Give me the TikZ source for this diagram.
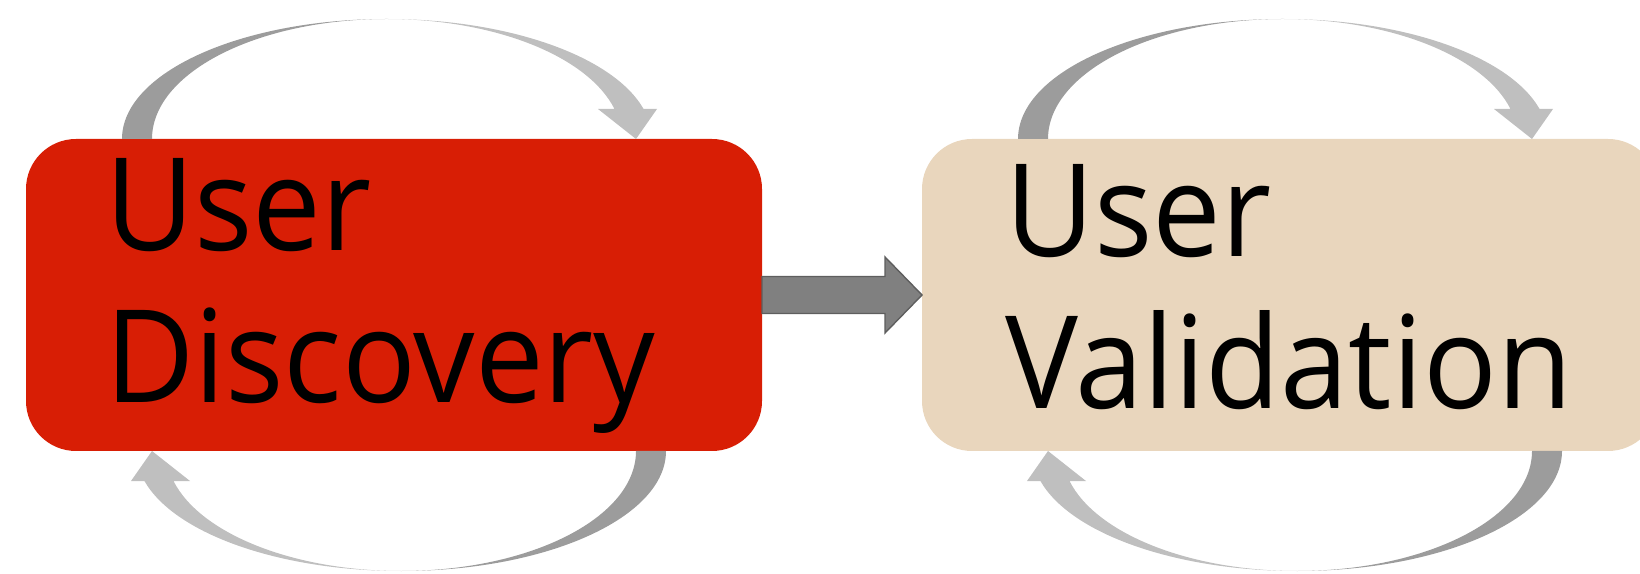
\documentclass[tikz,border=0pt]{standalone}
\usepackage{fontspec}
\usetikzlibrary{calc}
\newfontfamily\boxfont[FakeStretch=0.95]{Open Sans}

\definecolor{discred}{HTML}{D81E05}
\definecolor{valtan}{HTML}{E9D6BD}
\definecolor{loopdark}{HTML}{9C9C9C}
\definecolor{looplight}{HTML}{BFBFBF}
\definecolor{flowfill}{HTML}{808080}
\definecolor{flowedge}{HTML}{5E5E5E}

\tikzset{
  stagebox/.style={rectangle, rounded corners=50pt, inner sep=0pt, outer sep=0pt,
    minimum width=736pt, minimum height=312pt},
  stagetext/.style={anchor=base west, inner sep=0pt, outer sep=0pt,
    font=\boxfont\fontsize{129}{152}\selectfont, text=black},
  flowarrow/.style={fill=flowfill, draw=flowedge, line width=1.4pt, line join=miter},
  % curved feedback arrow above a box, placed at the box centre
  loop arrow/.pic={
    % rear half: from the tail up to the crest
    \fill[loopdark] (-272,156)
      arc[start angle=180, end angle=90, x radius=265pt, y radius=120pt]
      arc[start angle=90, end angle=180, x radius=235pt, y radius=120pt] -- cycle;
    % front half with the arrow head
    \fill[looplight] (-7,276)
      arc[start angle=90, end angle=14.48, x radius=265pt, y radius=120pt]
      -- (263,186) -- (242,156) -- (204,186) -- (220.5,186)
      arc[start angle=14.48, end angle=90, x radius=235pt, y radius=120pt] -- cycle;
  }
}

\begin{document}
\begin{tikzpicture}[x=1pt, y=1pt]
  \useasboundingbox (0,0) rectangle (1640,573);
  \clip (0,0) rectangle (1640,573);

  % the two stages
  \node[stagebox, fill=discred] (disc) at (394,278) {};
  \node[stagebox, fill=valtan] (valid) at (1290,278) {};

  % feedback loops round each stage
  \pic at (disc.center) {loop arrow};
  \pic[rotate=180] at (disc.center) {loop arrow};
  \pic at (valid.center) {loop arrow};
  \pic[rotate=180] at (valid.center) {loop arrow};

  % stage labels
  \node[stagetext] (discA) at ($(disc.north west)+(79,-112)$) {User};
  \node[stagetext] (discB) at ($(disc.north west)+(79,-264)$) {Discovery};
  \node[stagetext] (validA) at ($(valid.north west)+(83,-118)$) {User};
  \node[stagetext] (validB) at ($(valid.north west)+(83,-270)$) {Validation};

  % block arrow from discovery to validation
  \path[flowarrow]
    ($(disc.east)+(0,18.5)$) -- ($(valid.west)+(-37,18.5)$) -- ($(valid.west)+(-37,38)$)
    -- (valid.west) -- ($(valid.west)+(-37,-38)$) -- ($(valid.west)+(-37,-18.5)$)
    -- ($(disc.east)+(0,-18.5)$) -- cycle;
\end{tikzpicture}
\end{document}
